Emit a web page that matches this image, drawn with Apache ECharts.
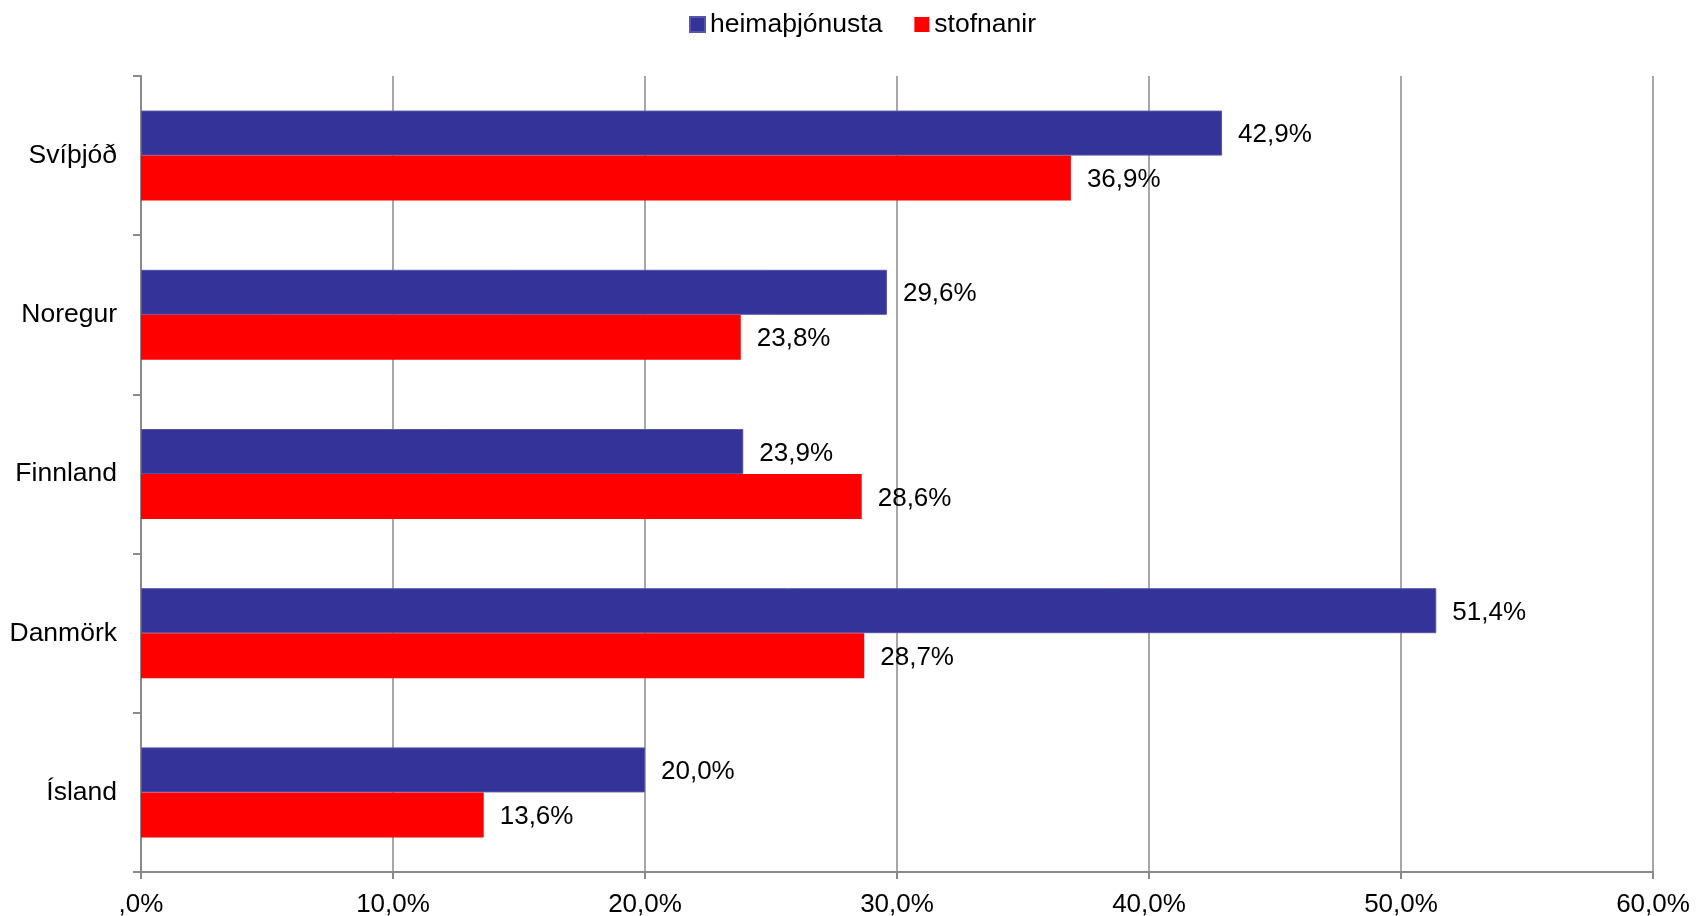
<!DOCTYPE html>
<html><head><meta charset="utf-8">
<script src="https://cdn.jsdelivr.net/npm/echarts@6/dist/echarts.min.js"></script>
<style>html,body{margin:0;padding:0;background:#fff}#c{width:1696px;height:916px}</style>
</head><body><div id="c"></div>
<script>
const categories = ['Svíþjóð', 'Noregur', 'Finnland', 'Danmörk', 'Ísland'];
const heimathjonusta = [42.9, 29.6, 23.9, 51.4, 20.0];
const stofnanir = [36.9, 23.8, 28.6, 28.7, 13.6];
const seriesNames = ['heimaþjónusta', 'stofnanir'];
const xTicks = [0, 10, 20, 30, 40, 50, 60];

function fmt(v) {
  const s = Number(v).toFixed(1).replace('.', ',');
  return (v === 0 ? ',0' : s) + '%';
}
const font = 'Liberation Sans, Arial, sans-serif';
const chart = echarts.init(document.getElementById('c'));
chart.setOption({
  animation: false,
  textStyle: { fontFamily: font, color: '#000' },
  legend: {
    top: 6, left: 684,
    itemWidth: 15, itemHeight: 15, itemGap: 32,
    icon: 'rect',
    textStyle: { fontSize: 26.5, color: '#000', fontFamily: font },
    data: seriesNames
  },
  grid: { left: 141, right: 43, top: 76, bottom: 44, containLabel: false, outerBoundsMode: 'none' },
  xAxis: {
    type: 'value', min: xTicks[0], max: xTicks[xTicks.length - 1], interval: 10,
    axisLine: { show: true, lineStyle: { color: '#8a8a8a', width: 2 } },
    axisTick: { show: true, length: 7, lineStyle: { color: '#8a8a8a', width: 2 } },
    splitLine: { show: true, lineStyle: { color: '#8a8a8a', width: 1.5 } },
    axisLabel: { fontSize: 26, color: '#000', margin: 20, formatter: fmt }
  },
  yAxis: {
    type: 'category', inverse: true, data: categories,
    axisLine: { show: true, lineStyle: { color: '#8a8a8a', width: 2 } },
    axisTick: { show: true, length: 8, lineStyle: { color: '#8a8a8a', width: 2 } },
    axisLabel: { fontSize: 26.5, color: '#000', margin: 24, padding: [4, 0, 0, 0] }
  },
  series: [
    {
      name: seriesNames[0], type: 'bar', data: heimathjonusta,
      barWidth: 45, barGap: '0%',
      itemStyle: { color: '#333399', borderColor: '#5555aa', borderWidth: 1 },
      label: { show: true, position: 'right', distance: 16, offset: [0, 2], fontSize: 26, color: '#000', formatter: p => fmt(p.value) }
    },
    {
      name: seriesNames[1], type: 'bar', data: stofnanir,
      barWidth: 45, barGap: '0%',
      itemStyle: { color: '#ff0000' },
      label: { show: true, position: 'right', distance: 16, offset: [0, 2], fontSize: 26, color: '#000', formatter: p => fmt(p.value) }
    }
  ]
});
</script></body></html>
